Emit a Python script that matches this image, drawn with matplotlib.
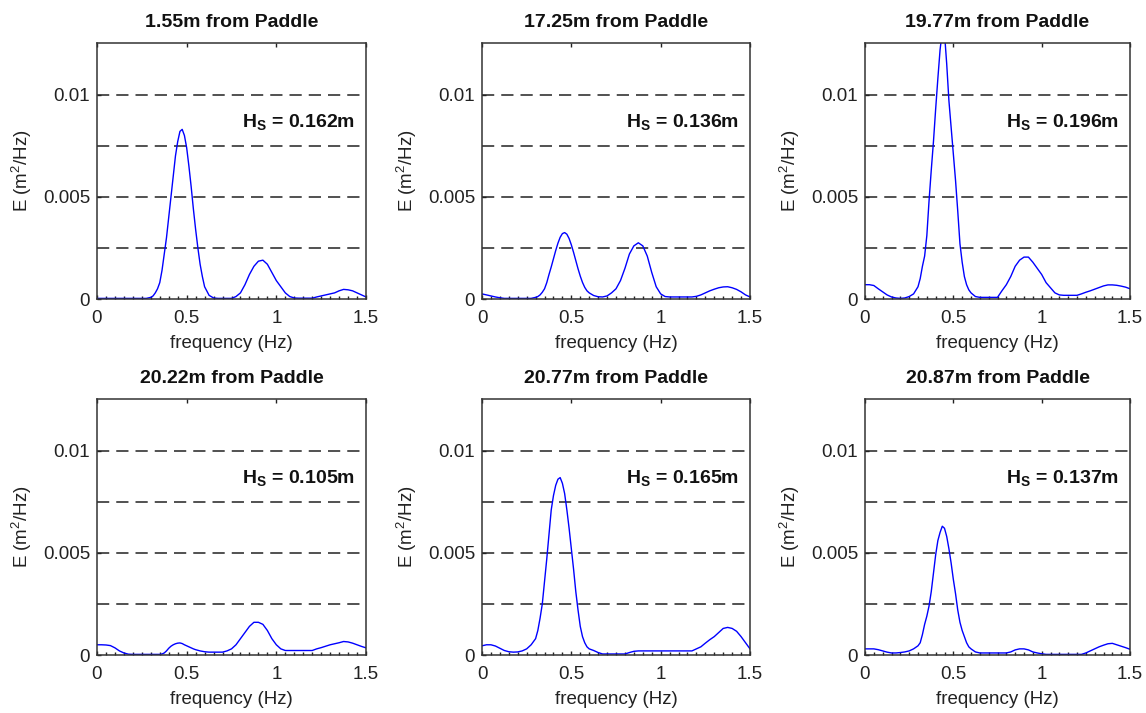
import numpy as np
import matplotlib
matplotlib.use("Agg")
import matplotlib.pyplot as plt
from matplotlib.ticker import MultipleLocator

plt.rcParams['font.family'] = ['Liberation Sans', 'DejaVu Sans']
plt.rcParams['mathtext.fontset'] = 'custom'
plt.rcParams['mathtext.rm'] = 'Liberation Sans'
plt.rcParams['mathtext.it'] = 'Liberation Sans:italic'
plt.rcParams['mathtext.bf'] = 'Liberation Sans:bold'

# frequency sample points (Hz): 0.025 Hz spacing, 0.0125 Hz around the main peak
freq = np.round(np.concatenate([np.arange(0, 0.2999, 0.025),
                                np.arange(0.3, 0.5999, 0.0125),
                                np.arange(0.6, 1.5001, 0.025)]), 4)

titles = ["1.55m from Paddle", "17.25m from Paddle", "19.77m from Paddle",
          "20.22m from Paddle", "20.77m from Paddle", "20.87m from Paddle"]
hs_values = ["0.162", "0.136", "0.196", "0.105", "0.165", "0.137"]

E_1 = [0.00003, 0.00003, 0.00003, 0.00003, 0.00003, 0.00003, 0.00003, 0.00003, 0.00003, 0.00003, 0.00003, 0.00003,
       0.00008, 0.00015, 0.0003, 0.0005, 0.0008, 0.0014, 0.0022, 0.003, 0.004, 0.005, 0.006, 0.007,
       0.0077, 0.0082, 0.0083, 0.008, 0.0074, 0.0065, 0.0055, 0.0044, 0.0034, 0.0025, 0.0017, 0.0011,
       0.0006, 0.00018, 0.00005, 0.00003, 0.00003, 0.00003, 0.00003, 0.00012, 0.0003, 0.0007, 0.0012, 0.0016,
       0.00185, 0.0019, 0.0017, 0.0013, 0.0009, 0.0006, 0.0003, 0.00012, 0.00005, 0.00004, 0.00004, 0.00004,
       0.00004, 0.0001, 0.00015, 0.0002, 0.00025, 0.0003, 0.0004, 0.00047, 0.00045, 0.0004, 0.0003, 0.0002, 0.0001]

E_2 = [0.00025, 0.0002, 0.00015, 0.0001, 0.00006, 0.00003, 0.00003, 0.00003, 0.00003, 0.00003, 0.00003, 0.00003,
       0.00008, 0.00012, 0.0002, 0.00033, 0.0005, 0.0008, 0.0012, 0.00157, 0.00197, 0.00237, 0.00273, 0.00302,
       0.0032, 0.00325, 0.00317, 0.00296, 0.00265, 0.00228, 0.00188, 0.00148, 0.00112, 0.00081, 0.00057, 0.0004,
       0.0003, 0.00017, 0.00011, 0.0001, 0.00015, 0.0003, 0.0005, 0.0009, 0.0015, 0.0022, 0.0026, 0.00275,
       0.0026, 0.0021, 0.0013, 0.0006, 0.00025, 0.00012, 0.0001, 0.0001, 0.0001, 0.0001, 0.0001, 0.0001,
       0.00013, 0.0002, 0.0003, 0.0004, 0.00048, 0.00055, 0.00059, 0.0006, 0.00055, 0.00047, 0.00035, 0.0002, 0.0001]

E_3 = [0.0007, 0.0007, 0.00066, 0.0005, 0.00035, 0.0002, 0.0001, 0.00005, 0.00003, 0.00005, 0.00012, 0.00025,
       0.0006, 0.001, 0.0016, 0.0021, 0.0031, 0.0048, 0.0063, 0.0077, 0.0093, 0.0108, 0.0122, 0.0131,
       0.013, 0.0115, 0.0097, 0.0084, 0.0071, 0.0058, 0.0043, 0.0027, 0.0018, 0.0011, 0.0007, 0.00045,
       0.0003, 0.00012, 0.00008, 0.00008, 0.00008, 0.00008, 0.00008, 0.0004, 0.0007, 0.0011, 0.0016, 0.0019,
       0.00205, 0.00205, 0.0018, 0.0015, 0.0012, 0.0008, 0.00055, 0.0003, 0.0002, 0.00018, 0.00018, 0.00018,
       0.00018, 0.00025, 0.00033, 0.0004, 0.00048, 0.00056, 0.00064, 0.00069, 0.00069, 0.00067, 0.00063, 0.00058, 0.0005]

E_4 = [0.0005, 0.0005, 0.00049, 0.00046, 0.00035, 0.0002, 0.0001, 0.00004, 0.00003, 0.00003, 0.00003, 0.00003,
       0.00003, 0.00003, 0.00003, 0.00003, 0.00003, 0.00005, 0.0001, 0.0002, 0.00033, 0.00043, 0.0005, 0.00055,
       0.00058, 0.00059, 0.00056, 0.0005, 0.00045, 0.0004, 0.00035, 0.0003, 0.00026, 0.00023, 0.0002, 0.00018,
       0.00016, 0.00014, 0.00014, 0.00014, 0.00014, 0.0002, 0.0003, 0.0005, 0.0008, 0.0011, 0.0014, 0.0016,
       0.0016, 0.0015, 0.0012, 0.0008, 0.0005, 0.0003, 0.00022, 0.00022, 0.00022, 0.00022, 0.00022, 0.00022,
       0.00022, 0.0003, 0.00036, 0.00043, 0.0005, 0.00055, 0.0006, 0.00066, 0.00064, 0.00058, 0.0005, 0.00042, 0.00035]

E_5 = [0.00045, 0.0005, 0.0005, 0.00044, 0.00033, 0.00022, 0.00016, 0.00014, 0.00015, 0.0002, 0.0003, 0.0005,
       0.0008, 0.0012, 0.0018, 0.0025, 0.0036, 0.0047, 0.0059, 0.0071, 0.0078, 0.0083, 0.0086, 0.00868,
       0.0084, 0.0079, 0.0071, 0.0062, 0.0052, 0.0042, 0.0031, 0.0022, 0.0014, 0.0009, 0.0006, 0.0004,
       0.0003, 0.00022, 0.00012, 0.00005, 0.00005, 0.00005, 0.00005, 0.00005, 0.00005, 0.00012, 0.00018, 0.0002,
       0.0002, 0.0002, 0.0002, 0.0002, 0.0002, 0.0002, 0.0002, 0.0002, 0.0002, 0.0002, 0.0002, 0.0002,
       0.0003, 0.0004, 0.00058, 0.00075, 0.0009, 0.0011, 0.0013, 0.00135, 0.0013, 0.00116, 0.0009, 0.0006, 0.0003]

E_6 = [0.0003, 0.0003, 0.0003, 0.00026, 0.0002, 0.00014, 0.0001, 0.0001, 0.00012, 0.00015, 0.0002, 0.0003,
       0.00045, 0.0006, 0.001, 0.0015, 0.0019, 0.0024, 0.0031, 0.004, 0.0049, 0.0056, 0.006, 0.0063,
       0.0062, 0.0058, 0.0052, 0.0045, 0.0037, 0.003, 0.0022, 0.0016, 0.0012, 0.0009, 0.0006, 0.0004,
       0.0003, 0.00015, 0.0001, 0.0001, 0.0001, 0.0001, 0.0001, 0.0001, 0.0001, 0.00015, 0.00025, 0.0003,
       0.0003, 0.00025, 0.00015, 0.0001, 0.00006, 0.00003, 0.00003, 0.00003, 0.00003, 0.00003, 0.00003, 0.00003,
       0.00003, 0.00003, 0.0001, 0.0002, 0.0003, 0.0004, 0.00048, 0.00055, 0.00057, 0.0005, 0.00043, 0.00036, 0.00028]

spectra = [E_1, E_2, E_3, E_4, E_5, E_6]
grid_levels = [0.0025, 0.005, 0.0075, 0.01]
yticks = [0, 0.005, 0.01]
ytick_labels = ["0", "0.005", "0.01"]
xticks = [0, 0.5, 1, 1.5]
xtick_labels = ["0", "0.5", "1", "1.5"]

W, H = 1146, 713
fig = plt.figure(figsize=(W / 100, H / 100), dpi=100)

lefts = [97, 482, 865]
widths = [269, 268, 265]
tops = [42.5, 398.5]
height = 256.5

for i, (title, hs, E) in enumerate(zip(titles, hs_values, spectra)):
    r, c = divmod(i, 3)
    n = min(len(freq), len(E))
    ax = fig.add_axes([lefts[c] / W, 1 - (tops[r] + height) / H, widths[c] / W, height / H])
    for lev in grid_levels:
        ax.axhline(lev, color='#222222', lw=1.1, dashes=(8, 4.6), zorder=1)
    ax.plot(freq[:n], E[:n], color='#0000ff', lw=1.0, zorder=2)
    ax.set_xlim(0, 1.5)
    ax.set_ylim(0, 0.01255)
    ax.set_xticks(xticks)
    ax.set_xticklabels(xtick_labels)
    ax.set_yticks(yticks)
    ax.set_yticklabels(ytick_labels)
    ax.xaxis.set_minor_locator(MultipleLocator(0.05))
    ax.tick_params(axis='both', which='major', direction='in', length=3, width=1,
                   labelsize=13.5, colors='#222222', labelcolor='#222222', pad=5)
    ax.tick_params(axis='x', which='major', top=True, pad=8)
    ax.tick_params(axis='x', which='minor', direction='in', length=2.2, width=1,
                   top=False, colors='#222222')
    for s in ax.spines.values():
        s.set_color('#333333')
        s.set_linewidth(1.1)
    ax.set_title(title, fontsize=14, fontweight='bold', pad=11, color='#111111')
    ax.set_xlabel('frequency (Hz)', fontsize=13.5, labelpad=6, color='#222222')
    ax.set_ylabel('E (m$^2$/Hz)', fontsize=13.5, labelpad=6, color='#222222')
    ax.text(0.96, 0.67, r'$\mathbf{H_S}$' + ' = ' + hs + 'm', transform=ax.transAxes,
            ha='right', va='baseline', fontsize=14, fontweight='bold', color='#111111', zorder=3)

fig.savefig('out.png', dpi=100, facecolor='white')
